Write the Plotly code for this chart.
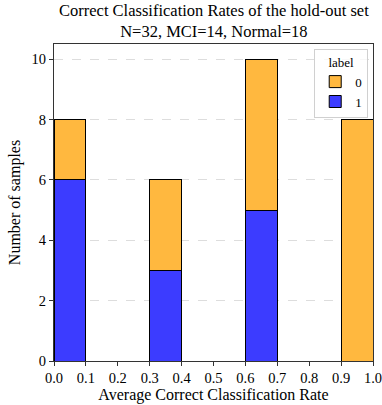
import plotly.graph_objects as go

bin_centers = [0.05, 0.15, 0.25, 0.35, 0.45, 0.55, 0.65, 0.75, 0.85, 0.95]
count_label_1 = [6, 0, 0, 3, 0, 0, 5, 0, 0, 0]
count_label_0 = [2, 0, 0, 3, 0, 0, 5, 0, 0, 8]
x_ticks = [0.0, 0.1, 0.2, 0.3, 0.4, 0.5, 0.6, 0.7, 0.8, 0.9, 1.0]
y_ticks = [0, 2, 4, 6, 8, 10]
title_text = "Correct Classification Rates of the hold-out set<br>N=32, MCI=14, Normal=18"

font = "Liberation Serif"
axis_color = "#333333"

fig = go.Figure()
fig.add_trace(go.Bar(x=bin_centers, y=count_label_1, width=0.1, name="1",
                     marker=dict(color="#3C3CFF", line=dict(color="black", width=1)),
                     legendrank=2))
fig.add_trace(go.Bar(x=bin_centers, y=count_label_0, width=0.1, name="0",
                     marker=dict(color="#FFB83F", line=dict(color="black", width=1)),
                     legendrank=1))

fig.add_annotation(text=title_text, xref="paper", yref="paper", x=0.5, y=1,
                   xanchor="center", yanchor="bottom", yshift=1, showarrow=False,
                   font=dict(family=font, size=16.5, color="black"))

fig.update_layout(
    width=382, height=405,
    barmode="stack",
    plot_bgcolor="white", paper_bgcolor="white",
    margin=dict(l=54, r=9, t=44, b=44, autoexpand=False),
    font=dict(family=font, size=14, color="black"),
    legend=dict(title=dict(text="label", side="top center", font=dict(family=font, size=13)),
                x=0.985, y=0.985,
                xanchor="right", yanchor="top", bordercolor="#d0d0d0", borderwidth=1,
                bgcolor="rgba(255,255,255,0.8)", font=dict(family=font, size=13),
                traceorder="normal"),
    xaxis=dict(range=[0, 1], tickvals=x_ticks, ticktext=[f"{v:.1f}" for v in x_ticks],
               showline=True, linecolor=axis_color, mirror=True, ticks="outside",
               tickcolor=axis_color, automargin=False, ticklabeloverflow="allow",
               ticklen=4, showgrid=False, zeroline=False,
               tickfont=dict(family=font, size=14.5),
               title=dict(text="Average Correct Classification Rate", standoff=2,
                          font=dict(family=font, size=16))),
    yaxis=dict(range=[0, 10.5], tickvals=y_ticks, showline=True, linecolor=axis_color,
               mirror=True, ticks="outside", ticklen=4, tickcolor=axis_color,
               automargin=False, showgrid=True,
               gridcolor="#dddddd", griddash="dash", zeroline=False,
               tickfont=dict(family=font, size=14.5),
               title=dict(text="Number of samples", standoff=6,
                          font=dict(family=font, size=16))),
)
fig.write_html("out.html", config={"displayModeBar": False},
               post_script="document.body.style.margin='0';document.body.style.overflow='hidden';")
